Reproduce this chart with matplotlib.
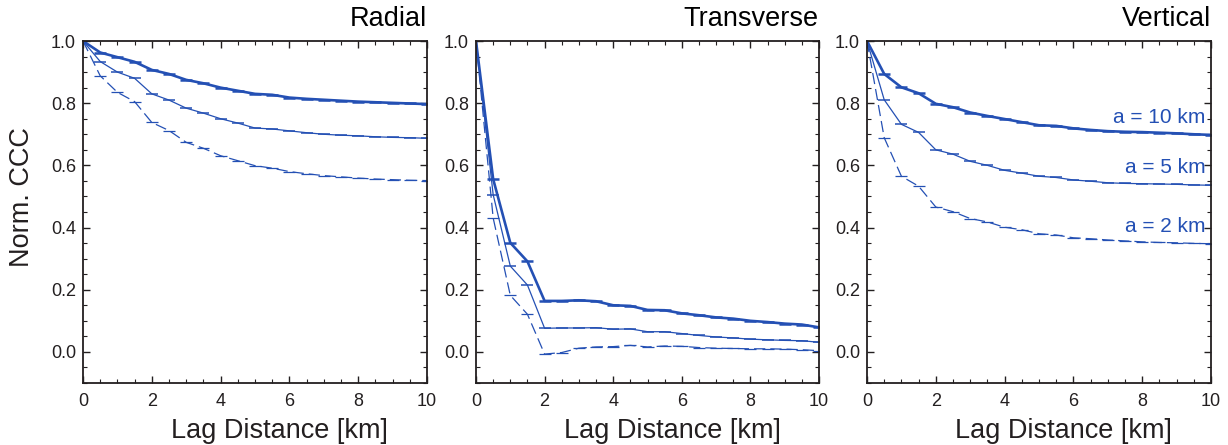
import matplotlib
matplotlib.use("Agg")
import matplotlib.pyplot as plt
from matplotlib.ticker import MultipleLocator

plt.rcParams['font.family'] = ['Liberation Sans', 'DejaVu Sans']

lag = [0, 0.5, 1, 1.5, 2, 2.5, 3, 3.5, 4, 4.5, 5, 5.5, 6, 6.5, 7, 7.5, 8, 8.5, 9, 9.5, 10]

panel_titles = ["Radial", "Transverse", "Vertical"]
series_labels = ["a = 10 km", "a = 5 km", "a = 2 km"]

radial_a10 = [1.0, 0.963, 0.948, 0.933, 0.907, 0.894, 0.875, 0.864, 0.850, 0.840, 0.830, 0.827,
              0.818, 0.814, 0.811, 0.808, 0.805, 0.803, 0.801, 0.799, 0.797]
radial_a5 = [1.0, 0.934, 0.900, 0.880, 0.830, 0.810, 0.784, 0.768, 0.750, 0.736, 0.720, 0.717,
             0.711, 0.705, 0.700, 0.697, 0.695, 0.692, 0.690, 0.689, 0.687]
radial_a2 = [1.0, 0.888, 0.835, 0.805, 0.738, 0.712, 0.674, 0.655, 0.631, 0.615, 0.599, 0.591,
             0.580, 0.573, 0.567, 0.563, 0.559, 0.556, 0.554, 0.552, 0.551]

trans_a10 = [1.0, 0.556, 0.351, 0.291, 0.164, 0.164, 0.166, 0.163, 0.150, 0.148, 0.135, 0.134,
             0.124, 0.118, 0.111, 0.107, 0.100, 0.096, 0.091, 0.088, 0.079]
trans_a5 = [1.0, 0.506, 0.276, 0.215, 0.076, 0.077, 0.077, 0.078, 0.073, 0.074, 0.065, 0.065,
            0.059, 0.053, 0.048, 0.045, 0.041, 0.039, 0.037, 0.036, 0.031]
trans_a2 = [1.0, 0.431, 0.182, 0.121, -0.007, -0.002, 0.012, 0.016, 0.017, 0.021, 0.016, 0.019,
            0.018, 0.014, 0.012, 0.011, 0.010, 0.010, 0.009, 0.007, 0.004]

vert_a10 = [1.0, 0.894, 0.851, 0.832, 0.798, 0.787, 0.770, 0.759, 0.749, 0.739, 0.729, 0.727,
            0.719, 0.714, 0.710, 0.708, 0.707, 0.705, 0.703, 0.700, 0.698]
vert_a5 = [1.0, 0.811, 0.732, 0.706, 0.650, 0.636, 0.613, 0.600, 0.584, 0.575, 0.565, 0.561,
           0.553, 0.549, 0.544, 0.542, 0.541, 0.540, 0.539, 0.537, 0.536]
vert_a2 = [1.0, 0.689, 0.565, 0.533, 0.466, 0.451, 0.429, 0.418, 0.401, 0.393, 0.380, 0.376,
           0.367, 0.364, 0.360, 0.357, 0.354, 0.352, 0.351, 0.349, 0.348]

panels = [
    [radial_a10, radial_a5, radial_a2],
    [trans_a10, trans_a5, trans_a2],
    [vert_a10, vert_a5, vert_a2],
]

label_y = [0.737, 0.574, 0.385]

blue = "#2450b4"
dark = "#231f20"
styles = [
    dict(lw=1.9, ls='-'),
    dict(lw=0.9, ls='-'),
    dict(lw=0.9, ls=(0, (9, 4))),
]
cap_w = [1.8, 1.1, 0.9]

fig = plt.figure(figsize=(12.28, 4.45), dpi=100)
lefts = [83, 476, 867]
widths = [344, 343, 344]
xlabel_centers = [279, 672, 1063]

for i, (series, title) in enumerate(zip(panels, panel_titles)):
    ax = fig.add_axes([lefts[i] / 1228, 1 - 383 / 445, widths[i] / 1228, 342 / 445])
    for j, vals in enumerate(series):
        ax.plot(lag, vals, color=blue, solid_capstyle='butt', **styles[j])
        ax.plot(lag[1:], vals[1:], ls='none', marker='_', ms=8, mew=cap_w[j], color=blue)
    ax.set_xlim(0, 10)
    ax.set_ylim(-0.1, 1.0)
    ax.xaxis.set_minor_locator(MultipleLocator(0.5))
    ax.yaxis.set_minor_locator(MultipleLocator(0.05))
    ax.set_yticks([0.0, 0.2, 0.4, 0.6, 0.8, 1.0])
    ax.set_yticklabels(["0.0", "0.2", "0.4", "0.6", "0.8", "1.0"])
    ax.set_xticks([0, 2, 4, 6, 8, 10])
    ax.set_xticklabels(["0", "2", "4", "6", "8", "10"])
    ax.tick_params(which='both', direction='in', top=True, right=True, color=dark,
                   labelcolor=dark, labelsize=13)
    ax.tick_params(which='major', length=5, width=1.0)
    ax.tick_params(which='minor', length=3, width=0.8)
    ax.tick_params(axis='x', which='major', pad=7)
    ax.tick_params(axis='y', which='major', pad=5)
    for sp in ax.spines.values():
        sp.set_linewidth(1.3)
        sp.set_color(dark)
    ax.text(1.0, 1.025, title, transform=ax.transAxes, ha='right', va='bottom',
            fontsize=19.5, color='black')
    fig.text(xlabel_centers[i] / 1228, 1 - 438 / 445, "Lag Distance [km]", ha='center',
             va='baseline', fontsize=19.5, color=dark)
    if i == 2:
        for lab, yv in zip(series_labels, label_y):
            ax.text(9.85, yv, lab, ha='right', va='baseline', fontsize=15, color=blue)

fig.text(22 / 1228, 1 - 197 / 445, "Norm. CCC", rotation=90, ha='center', va='center',
         fontsize=19.5, color=dark)

fig.savefig("out.png", dpi=100)
